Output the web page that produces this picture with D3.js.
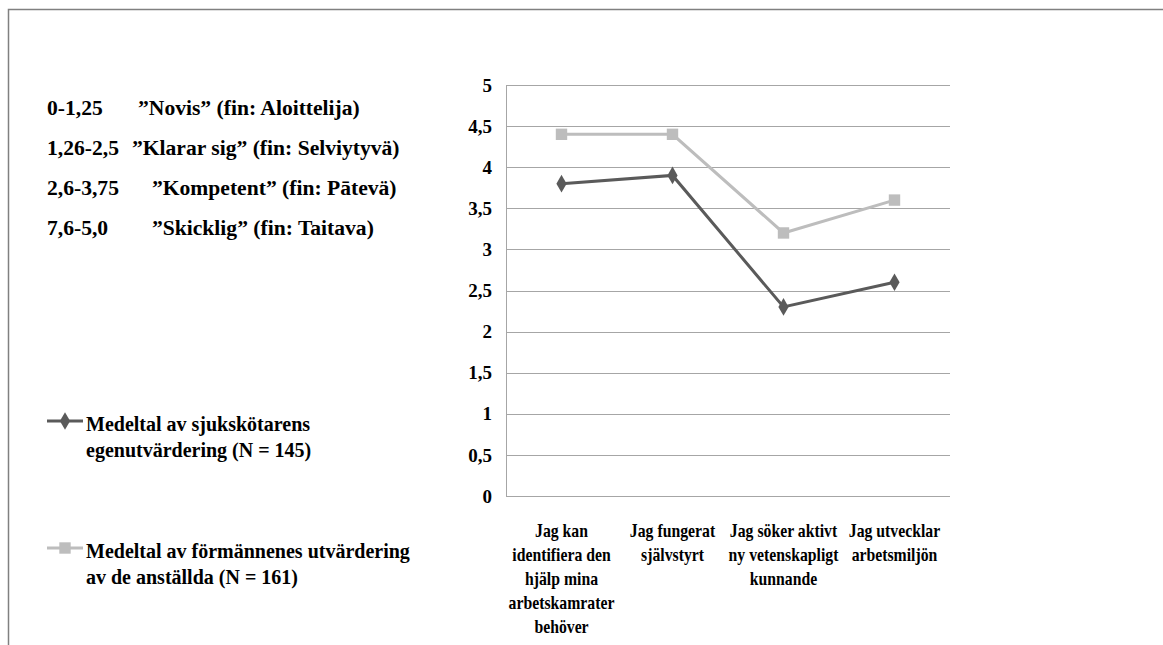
<!DOCTYPE html>
<html><head><meta charset="utf-8">
<script src="https://cdn.jsdelivr.net/npm/d3@7"></script>
<style>body{margin:0;background:#fff}svg{display:block}svg text{font-family:'Liberation Serif',serif;font-weight:bold}</style>
</head><body><svg id="c" width="1163" height="645" font-family="Liberation Serif"></svg>
<script>
const categories = [
  ["Jag kan","identifiera den","hjälp mina","arbetskamrater","behöver"],
  ["Jag fungerat","självstyrt"],
  ["Jag söker aktivt","ny vetenskapligt","kunnande"],
  ["Jag utvecklar","arbetsmiljön"]
];
const selfEval = [3.8, 3.9, 2.3, 2.6];
const supervisorEval = [4.4, 4.4, 3.2, 3.6];
const yTicks = [0,0.5,1,1.5,2,2.5,3,3.5,4,4.5,5];
const yTickLabels = ["0","0,5","1","1,5","2","2,5","3","3,5","4","4,5","5"];
const rangeLabels = [["0-1,25","”Novis” (fin: Aloittelija)"],["1,26-2,5","”Klarar sig” (fin: Selviytyvä)"],["2,6-3,75","”Kompetent” (fin: Pātevä)"],["7,6-5,0","”Skicklig” (fin: Taitava)"]];
const seriesNames = [["Medeltal av sjukskötarens","egenutvärdering (N = 145)"],["Medeltal av förmännenes utvärdering","av de anställda (N = 161)"]];

const svg = d3.select("#c");
const dark = "#5a5a5a", light = "#bdbdbd", grid = "#a6a6a6";
const txt = (sel, size) => sel.attr("font-family","Liberation Serif").style("font-family","'Liberation Serif', serif").attr("font-weight","bold").attr("font-size",size).attr("fill","#000");

// frame
svg.append("rect").attr("x",8.5).attr("y",9.5).attr("width",1300).attr("height",800)
  .attr("fill","none").attr("stroke","#808080").attr("stroke-width",1.5);

const x = d3.scaleBand().domain(d3.range(categories.length)).range([506,950]);
const y = d3.scaleLinear().domain([0,5]).range([496,85]);
const cx = i => x(i) + x.bandwidth()/2;

// gridlines
svg.append("g").selectAll("line").data(yTicks).join("line")
  .attr("x1",506).attr("x2",950).attr("y1",d=>Math.round(y(d))+0.5).attr("y2",d=>Math.round(y(d))+0.5)
  .attr("stroke",grid).attr("stroke-width",1);
svg.append("line").attr("x1",506.5).attr("x2",506.5).attr("y1",y(5)).attr("y2",y(0)).attr("stroke",grid);

// y ticks
txt(svg.append("g").selectAll("text").data(yTicks).join("text")
  .attr("x",492).attr("y",d=>y(d)).attr("dy","0.35em").attr("text-anchor","end"),19)
  .text((d,i)=>yTickLabels[i]);

// x labels
const xl = svg.append("g").selectAll("g").data(categories).join("g")
  .attr("transform",(d,i)=>`translate(${cx(i)},537) scale(0.83,1)`);
txt(xl.selectAll("text").data(d=>d).join("text").attr("x",0).attr("y",(d,j)=>j*24)
  .attr("text-anchor","middle"),19).text(d=>d);

// lines
const line = d3.line().x((d,i)=>cx(i)).y(d=>y(d));
svg.append("path").datum(supervisorEval).attr("d",line).attr("fill","none").attr("stroke",light).attr("stroke-width",3);
svg.append("path").datum(selfEval).attr("d",line).attr("fill","none").attr("stroke",dark).attr("stroke-width",3);
const sq = d3.symbol().type(d3.symbolSquare).size(130);
const di = d3.symbol().type(d3.symbolDiamond).size(90);
svg.append("g").selectAll("path").data(supervisorEval).join("path")
  .attr("transform",(d,i)=>`translate(${cx(i)},${y(d)})`).attr("d",sq).attr("fill",light);
svg.append("g").selectAll("path").data(selfEval).join("path")
  .attr("transform",(d,i)=>`translate(${cx(i)},${y(d)})`).attr("d",di).attr("fill",dark);

// range legend
const rg = svg.append("g");
rangeLabels.forEach((r,i)=>{
  const by = 115 + i*40;
  const g1 = rg.append("g").attr("transform",`translate(47,${by}) scale(1.08,1)`);
  txt(g1.append("text"),20).text(r[0]);
  const g2 = rg.append("g").attr("transform",`translate(${[138,132,152,152][i]},${by}) scale(1.08,1)`);
  txt(g2.append("text"),20).text(r[1]);
});

// series legend
const lg = [{c:dark,sym:di,y:421},{c:light,sym:sq,y:548}];
lg.forEach((s,i)=>{
  svg.append("line").attr("x1",47).attr("x2",83).attr("y1",s.y).attr("y2",s.y).attr("stroke",s.c).attr("stroke-width",3);
  svg.append("path").attr("transform",`translate(65,${s.y})`).attr("d",s.sym).attr("fill",s.c);
  seriesNames[i].forEach((t,j)=>{
    txt(svg.append("text").attr("x",86).attr("y",s.y+10+j*26),20).text(t);
  });
});
</script></body></html>
